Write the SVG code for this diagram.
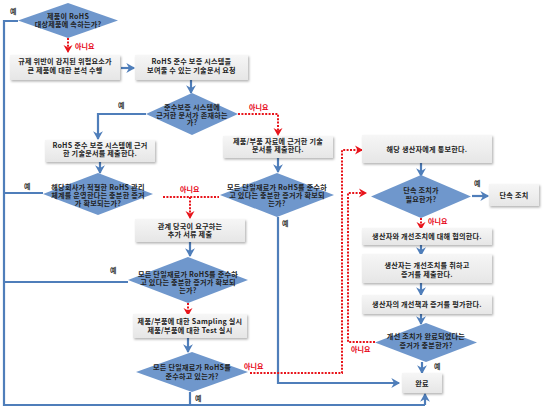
<svg xmlns="http://www.w3.org/2000/svg" width="545" height="407" viewBox="0 0 545 407">
<defs>
<style>
.t{font-family:"Noto Sans CJK KR","Noto Sans",sans-serif;font-size:7.1px;font-weight:bold;fill:#222;text-anchor:middle;letter-spacing:0.25px}
.lb{font-family:"Noto Sans CJK KR","Noto Sans",sans-serif;font-size:7px;font-weight:bold;fill:#333}
.lr{font-family:"Noto Sans CJK KR","Noto Sans",sans-serif;font-size:7px;font-weight:bold;fill:#e60012}
.box{fill:url(#bg);filter:url(#sh)}
.dia{fill:#6f97cc}
.bl{fill:none;stroke:#4f7eba;stroke-width:2.2}
.ba{fill:none;stroke:#4f7eba;stroke-width:2.2;marker-end:url(#ab)}
.rd{fill:none;stroke:#e8141b;stroke-width:2;stroke-dasharray:2 1.4}
.ra{fill:none;stroke:#e8141b;stroke-width:2;stroke-dasharray:2 1.4;marker-end:url(#ar)}
</style>
<linearGradient id="bg" x1="0" y1="0" x2="0" y2="1"><stop offset="0" stop-color="#f6f6f6"/><stop offset="1" stop-color="#e6e6e6"/></linearGradient>
<filter id="sh" x="-10%" y="-20%" width="130%" height="160%"><feDropShadow dx="1.2" dy="1.5" stdDeviation="1" flood-color="#000" flood-opacity="0.3"/></filter>
<marker id="ab" markerUnits="userSpaceOnUse" markerWidth="11" markerHeight="11" viewBox="0 0 10 10" refX="8" refY="5" orient="auto"><path d="M1,0.5 L9,5 L1,9.5 L3.5,5 Z" fill="#4f7eba"/></marker>
<marker id="ar" markerUnits="userSpaceOnUse" markerWidth="10" markerHeight="10" viewBox="0 0 10 10" refX="8" refY="5" orient="auto"><path d="M1,0.5 L9,5 L1,9.5 L3.5,5 Z" fill="#e8141b"/></marker>
</defs>
<rect width="545" height="407" fill="#fff"/>

<g id="connectors">
<polyline class="bl" points="18,21 4,21 4,405 425,405"/>
<line class="ba" x1="425" y1="405" x2="425" y2="394"/>
<line class="ra" x1="68" y1="38" x2="68" y2="52"/>
<line class="ba" x1="121" y1="68" x2="134" y2="68"/>
<line class="ba" x1="191" y1="80" x2="191" y2="93"/>
<polyline class="ba" points="146,114 98,114 98,139"/>
<polyline class="ra" points="238,114 278,114 278,135"/>
<line class="ba" x1="100" y1="162" x2="100" y2="173"/>
<line class="ba" x1="278" y1="158" x2="278" y2="172"/>
<line class="bl" x1="43" y1="193" x2="4" y2="193"/>
<line class="rd" x1="163" y1="197" x2="219" y2="197"/>
<line class="ra" x1="190" y1="197" x2="190" y2="218"/>
<polyline class="ba" points="278,217 278,383 399,383"/>
<line class="ba" x1="190" y1="242" x2="190" y2="256"/>
<line class="bl" x1="128" y1="282" x2="4" y2="282"/>
<line class="ra" x1="188" y1="303" x2="188" y2="315"/>
<line class="ba" x1="188" y1="338" x2="188" y2="352"/>
<line class="bl" x1="190" y1="392" x2="190" y2="405"/>
<polyline class="ra" points="250,373 342,373 342,150 362,150"/>
<polyline class="ra" points="375,342 348,342 348,193 366,193"/>
<line class="ba" x1="421" y1="163" x2="421" y2="176"/>
<line class="ba" x1="472" y1="196" x2="488" y2="196"/>
<line class="ra" x1="421" y1="218" x2="421" y2="229"/>
<line class="ba" x1="421" y1="245" x2="421" y2="255"/>
<line class="ba" x1="421" y1="283" x2="421" y2="295"/>
<line class="ba" x1="421" y1="314" x2="421" y2="324"/>
<line class="ba" x1="422" y1="362" x2="422" y2="373"/>
<text class="lb" x="10" y="14">예</text>
<text class="lr" x="75" y="49">아니요</text>
<text class="lb" x="118" y="108">예</text>
<text class="lr" x="249" y="110">아니요</text>
<text class="lb" x="24" y="189">예</text>
<text class="lr" x="180" y="192">아니요</text>
<text class="lb" x="282" y="226">예</text>
<text class="lb" x="110" y="273">예</text>
<text class="lr" x="244" y="369">아니요</text>
<text class="lb" x="195" y="401">예</text>
<text class="lb" x="474" y="186">예</text>
<text class="lr" x="428" y="224">아니요</text>
<text class="lr" x="351" y="352">아니요</text>
<text class="lb" x="434" y="369">예</text>
</g>

<g id="d1"><polygon class="dia" points="18,20.5 68,3 118,20.5 68,38"/>
<text class="t" x="68" y="19">제품이 RoHS</text><text class="t" x="68" y="27.3">대상제품에 속하는가?</text></g>

<g id="b3"><rect class="box" x="10" y="55" width="110" height="25"/>
<text class="t" x="65" y="64.3">규제 위반이 감지된 위험요소가</text><text class="t" x="65" y="73">큰 제품에 대한 분석 수행</text></g>

<g id="b4"><rect class="box" x="135" y="55" width="113" height="25"/>
<text class="t" x="191.5" y="64.3">RoHS 준수 보증 시스템을</text><text class="t" x="191.5" y="73">보여줄 수 있는 기술문서 요청</text></g>

<g id="d5"><polygon class="dia" points="146,114 192,93 238,114 192,135"/>
<text class="t" x="192" y="109.5">준수보증 시스템에</text><text class="t" x="192" y="117.5">근거한 문서가 존재하는</text><text class="t" x="192" y="125.3">가?</text></g>

<g id="b7"><rect class="box" x="45" y="140" width="110" height="22"/>
<text class="t" x="100" y="147.6">RoHS 준수 보증 시스템에 근거</text><text class="t" x="100" y="156.2">한 기술문서를 제출한다.</text></g>

<g id="b8"><rect class="box" x="223" y="136" width="110" height="22"/>
<text class="t" x="278" y="143.8">제품/부품 자료에 근거한 기술</text><text class="t" x="278" y="152.4">문서를 제출한다.</text></g>

<g id="d9"><polygon class="dia" points="43,194 98,173 153,194 98,215"/>
<text class="t" x="98" y="190">해당회사가 적절한 RoHS 관리</text><text class="t" x="98" y="198.2">체계를 운영한다는 충분한 증거</text><text class="t" x="98" y="206.2">가 확보되는가?</text></g>

<g id="d15"><polygon class="dia" points="220,195 277,173 334,195 277,217"/>
<text class="t" x="277" y="190">모든 단일재료가 RoHS를 준수하</text><text class="t" x="277" y="198.2">고 있다는 충분한 증거가 확보되</text><text class="t" x="277" y="206.2">는가?</text></g>

<g id="b11"><rect class="box" x="135" y="219" width="110" height="23"/>
<text class="t" x="190" y="228.8">관계 당국이 요구하는</text><text class="t" x="190" y="237.4">추가 서류 제출</text></g>

<g id="d12"><polygon class="dia" points="128,280 188,257 248,280 188,303"/>
<text class="t" x="188" y="276.8">모든 단일재료가 RoHS를 준수하</text><text class="t" x="188" y="285">고 있다는 충분한 증거가 확보되</text><text class="t" x="188" y="293">는가?</text></g>

<g id="b13"><rect class="box" x="133" y="314" width="114" height="24"/>
<text class="t" x="190" y="324.2">제품/부품에 대한 Sampling 실시</text><text class="t" x="190" y="332.8">제품/부품에 대한 Test 실시</text></g>

<g id="d14"><polygon class="dia" points="136,372 192,352 248,372 192,392"/>
<text class="t" x="192" y="369.8">모든 단일재료가 RoHS를</text><text class="t" x="192" y="378.5">준수하고 있는가?</text></g>

<g id="b16"><rect class="box" x="362" y="135" width="130" height="28"/>
<text class="t" x="427" y="151.5">해당 생산자에게 통보한다.</text></g>

<g id="d17"><polygon class="dia" points="371,196.5 421,175 471,196.5 421,218"/>
<text class="t" x="421" y="193.3">단속 조치가</text><text class="t" x="421" y="201.8">필요한가?</text></g>

<g id="b18"><rect class="box" x="489" y="184" width="50" height="22"/>
<text class="t" x="514" y="197.5">단속 조치</text></g>

<g id="b19"><rect class="box" x="362" y="228" width="130" height="17"/>
<text class="t" x="427" y="239">생산자와 개선조치에 대해 협의한다.</text></g>

<g id="b20"><rect class="box" x="362" y="254" width="130" height="29"/>
<text class="t" x="427" y="268.3">생산자는 개선조치를 취하고</text><text class="t" x="427" y="277">증거를 제출한다.</text></g>

<g id="b21"><rect class="box" x="362" y="295" width="130" height="19"/>
<text class="t" x="427" y="307">생산자의 개선책과 증거를 평가한다.</text></g>

<g id="d22"><polygon class="dia" points="375,342.5 426,323 477,342.5 426,362"/>
<text class="t" x="426" y="339.3">개선 조치가 완료되었다는</text><text class="t" x="426" y="348">증거가 충분한가?</text></g>

<g id="b23"><rect class="box" x="402" y="373" width="40" height="20"/>
<text class="t" x="422" y="386">완료</text></g>
</svg>
